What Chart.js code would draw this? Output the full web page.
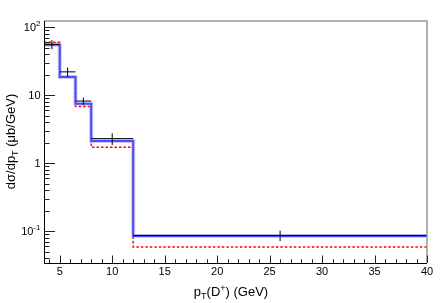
<!DOCTYPE html>
<html>
<head>
<meta charset="utf-8">
<script src="https://cdn.jsdelivr.net/npm/chart.js@4.4.1/dist/chart.umd.min.js"></script>
<style>
html,body{margin:0;padding:0;background:#fff;}
#wrap{width:445px;height:303px;}
</style>
</head>
<body>
<div id="wrap"><canvas id="c" width="445" height="303"></canvas></div>
<script>
// ---- data ----
const binEdges   = [3.5, 5, 6.5, 8, 12, 40];
const dataX      = [4.25, 5.75, 7.25, 10, 26];
const dataXErr   = [0.75, 0.75, 0.75, 2, 14];
const dataVals   = [55.8, 22.0, 8.2, 2.3, 0.087];
const dataErr    = [8.5, 3.5, 1.0, 0.45, 0.015];
const blueVals   = [55.0, 18.5, 7.5, 2.12, 0.085];
const redVals    = [60.0, 18.3, 6.8, 1.72, 0.059];
const xTickValues = [5, 10, 15, 20, 25, 30, 35, 40];
const xTickLabels = ['5', '10', '15', '20', '25', '30', '35', '40'];
const yTickValues = [0.1, 1, 10, 100];
const yTickBase   = ['10', '1', '10', '10'];
const yTickExp    = ['-1', '', '', '2'];

function histPoints(vals) {
  const pts = vals.map((v, i) => ({x: binEdges[i], y: v}));
  pts.push({x: binEdges[binEdges.length - 1], y: vals[vals.length - 1]});
  return pts;
}

const FONT = '"Liberation Sans", Arial, Helvetica, sans-serif';

const rootPlugin = {
  id: 'rootStyle',
  afterDatasetsDraw(chart) {
    const ctx = chart.ctx;
    const xs = chart.scales.x, ys = chart.scales.y;
    const a = chart.chartArea;
    ctx.save();
    // data crosses
    ctx.strokeStyle = '#000';
    ctx.lineWidth = 1;
    for (let i = 0; i < dataVals.length; i++) {
      const px = xs.getPixelForValue(dataX[i]);
      const py = ys.getPixelForValue(dataVals[i]);
      ctx.beginPath();
      ctx.moveTo(xs.getPixelForValue(dataX[i] - dataXErr[i]), py);
      ctx.lineTo(xs.getPixelForValue(dataX[i] + dataXErr[i]), py);
      ctx.moveTo(px, ys.getPixelForValue(dataVals[i] - dataErr[i]));
      ctx.lineTo(px, ys.getPixelForValue(dataVals[i] + dataErr[i]));
      ctx.stroke();
    }
    // frame
    ctx.strokeStyle = '#999';
    ctx.lineWidth = 1.5;
    ctx.beginPath();
    ctx.moveTo(a.left, a.top); ctx.lineTo(a.right, a.top); ctx.lineTo(a.right, a.bottom);
    ctx.stroke();
    ctx.strokeStyle = '#000';
    ctx.lineWidth = 1;
    ctx.beginPath();
    ctx.moveTo(a.left + 0.5, a.top); ctx.lineTo(a.left + 0.5, a.bottom + 0.5); ctx.lineTo(a.right, a.bottom + 0.5);
    ctx.stroke();
    // x ticks
    ctx.strokeStyle = '#222';
    ctx.beginPath();
    for (let v = 4; v <= 40; v++) {
      const px = Math.round(xs.getPixelForValue(v)) + 0.5;
      const len = (v % 5 === 0) ? 7.5 : 3.75;
      ctx.moveTo(px, a.bottom); ctx.lineTo(px, a.bottom - len);
    }
    // y ticks
    for (let d = -2; d <= 2; d++) {
      for (let k = 1; k <= 9; k++) {
        const v = k * Math.pow(10, d);
        if (v < ys.min || v > ys.max) continue;
        const py = Math.round(ys.getPixelForValue(v)) + 0.5;
        const len = (k === 1) ? 11 : 5.5;
        ctx.moveTo(a.left, py); ctx.lineTo(a.left + len, py);
      }
    }
    ctx.stroke();
    // x tick labels
    ctx.fillStyle = '#000';
    ctx.font = '11px ' + FONT;
    ctx.textAlign = 'center';
    ctx.textBaseline = 'top';
    xTickValues.forEach((v, i) => {
      ctx.fillText(xTickLabels[i], xs.getPixelForValue(v), a.bottom + 3);
    });
    // y tick labels
    ctx.textBaseline = 'alphabetic';
    ctx.textAlign = 'left';
    yTickValues.forEach((v, i) => {
      const py = ys.getPixelForValue(v);
      ctx.font = '11px ' + FONT;
      const wb = ctx.measureText(yTickBase[i]).width;
      ctx.font = '8px ' + FONT;
      const we = yTickExp[i] ? ctx.measureText(yTickExp[i]).width : 0;
      const x0 = 40.5 - wb - we;
      ctx.font = '11px ' + FONT;
      ctx.fillText(yTickBase[i], x0, py + 3.5);
      if (yTickExp[i]) {
        ctx.font = '8px ' + FONT;
        ctx.fillText(yTickExp[i], x0 + wb, py - 1);
      }
    });
    // x title: p_T(D^+) (GeV)
    const parts = [
      {t: 'p', s: 13, dy: 0},
      {t: 'T', s: 9, dy: 3},
      {t: '(D', s: 13, dy: 0},
      {t: '+', s: 9, dy: -5},
      {t: ') (GeV)', s: 13, dy: 0}
    ];
    function partsWidth(ps) {
      let w = 0;
      ps.forEach(p => { ctx.font = p.s + 'px ' + FONT; w += ctx.measureText(p.t).width; });
      return w;
    }
    ctx.textAlign = 'left';
    const wx = partsWidth(parts);
    let tx = 231 - wx / 2;
    parts.forEach(p => {
      ctx.font = p.s + 'px ' + FONT;
      ctx.fillText(p.t, tx, 296 + p.dy);
      tx += ctx.measureText(p.t).width;
    });
    // y title: dσ/dp_T (μb/GeV)
    const yparts = [
      {t: 'd\u03C3/dp', s: 13, dy: 0},
      {t: 'T', s: 9, dy: 3},
      {t: ' (\u03BCb/GeV)', s: 13, dy: 0}
    ];
    const wy = partsWidth(yparts);
    ctx.save();
    ctx.translate(15, 141.5);
    ctx.rotate(-Math.PI / 2);
    let cx = -wy / 2;
    yparts.forEach(p => {
      ctx.font = p.s + 'px ' + FONT;
      ctx.fillText(p.t, cx, p.dy);
      cx += ctx.measureText(p.t).width;
    });
    ctx.restore();
    ctx.restore();
  }
};

new Chart(document.getElementById('c'), {
  type: 'line',
  data: {
    datasets: [
      {data: histPoints(blueVals), borderColor: 'rgba(150,150,255,0.5)', borderWidth: 4, stepped: 'before', pointRadius: 0, fill: false},
      {data: histPoints(blueVals), borderColor: '#0000ff', borderWidth: 2, stepped: 'before', pointRadius: 0, fill: false},
      {data: histPoints(redVals), borderColor: '#ff0000', borderWidth: 1.5, borderDash: [2.5, 2], stepped: 'before', pointRadius: 0, fill: false}
    ]
  },
  options: {
    responsive: false,
    animation: false,
    layout: {padding: {left: 44, right: 18, top: 21, bottom: 40}},
    plugins: {legend: {display: false}, tooltip: {enabled: false}},
    scales: {
      x: {type: 'linear', min: 3.5, max: 40, display: false},
      y: {type: 'logarithmic', min: 0.0342, max: 123, display: false}
    }
  },
  plugins: [rootPlugin]
});
</script>
</body>
</html>
